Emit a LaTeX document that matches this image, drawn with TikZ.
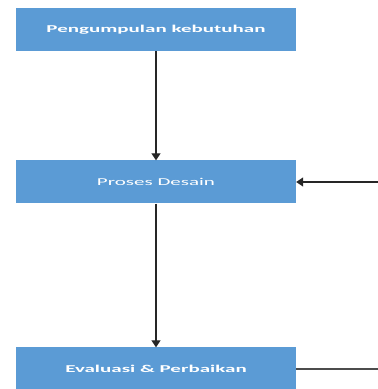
\documentclass[tikz,border=0pt]{standalone}
\usepackage{fontspec}
\usepackage{graphicx}
\usetikzlibrary{arrows.meta}
\newfontfamily\calibri{Carlito}
\definecolor{boxblue}{HTML}{5B9BD5}
\newcommand{\widetext}[1]{\scalebox{2.0}[1]{#1}}

\begin{document}
\begin{tikzpicture} [x = 1pt, y = 1pt]
        %style
        \tikzset{stepbox/.style = {shape=rectangle, fill=boxblue, text=white, inner sep=0pt, minimum width = 280pt, minimum height = 43pt, font=\calibri\fontsize{10.5}{12}\selectfont}}
        \tikzset{flow/.style = {draw=black!85, line width=1.2pt, -{Triangle[length=7pt, width=9pt]}}}
        \useasboundingbox (0,0) rectangle (378,389);
        \clip (0,0) rectangle (378,389);
        \node[stepbox]  (pengumpulan) at  (156,359.5) {\widetext{\bfseries Pengumpulan kebutuhan}};
        \node[stepbox]  (proses)      at  (156,207)   {\widetext{Proses Desain}};
        \node[stepbox]  (evaluasi)    at  (156,20)    {\widetext{\bfseries Evaluasi \& Perbaikan}};
        \coordinate     (masuk)       at  (378,207);
        \coordinate     (keluar)      at  (378,20);
        \draw [flow] (pengumpulan) to (proses);
        \draw [flow] (proses) to (evaluasi);
        \draw [flow] (masuk) to (proses);
        \draw [draw=black!70, line width=1.2pt] (evaluasi) to (keluar);
\end{tikzpicture}
\end{document}
